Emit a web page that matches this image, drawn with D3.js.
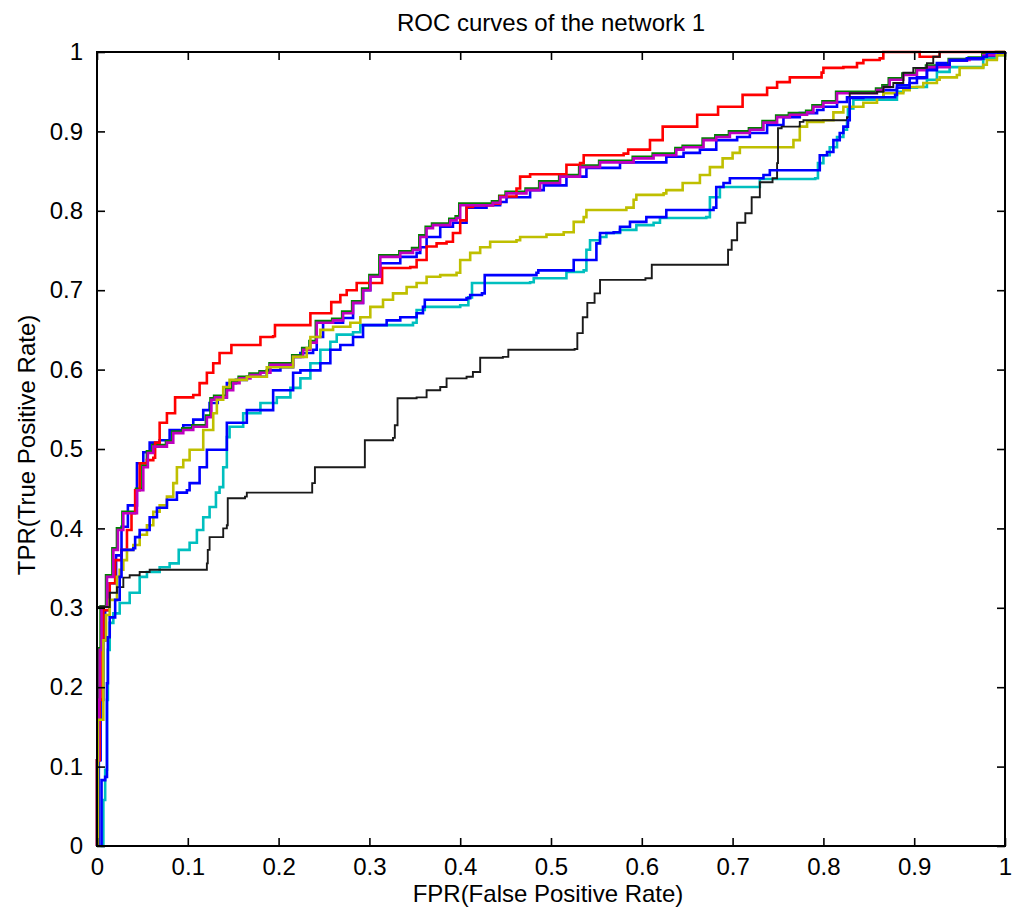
<!DOCTYPE html>
<html>
<head>
<meta charset="utf-8">
<script src="https://cdn.jsdelivr.net/npm/d3@7"></script>
<style>
  html, body { margin: 0; padding: 0; background: #fff; }
  svg text { font-family: "Liberation Sans", Arial, Helvetica, sans-serif; fill: #000; }
</style>
</head>
<body>
<svg id="chart" width="1024" height="918"></svg>
<script>
// ROC curves, [FPR, TPR] vertices of each staircase
const blue1Curve = [[0.002,0],[0.002,0.108],[0.004,0.184],[0.007,0.259],[0.009,0.297],[0.014,0.331],[0.021,0.366],[0.027,0.402],[0.034,0.429],[0.044,0.482],[0.051,0.496],[0.058,0.508],[0.069,0.511],[0.080,0.524],[0.095,0.530],[0.106,0.537],[0.117,0.549],[0.124,0.558],[0.133,0.565],[0.143,0.583],[0.153,0.587],[0.165,0.591],[0.187,0.599],[0.202,0.603],[0.216,0.616],[0.224,0.621],[0.238,0.625],[0.242,0.641],[0.249,0.659],[0.271,0.665],[0.282,0.684],[0.293,0.700],[0.301,0.717],[0.312,0.734],[0.334,0.742],[0.352,0.747],[0.356,0.754],[0.363,0.767],[0.378,0.780],[0.392,0.785],[0.407,0.804],[0.429,0.807],[0.444,0.811],[0.451,0.817],[0.477,0.826],[0.492,0.832],[0.517,0.843],[0.539,0.854],[0.576,0.861],[0.627,0.868],[0.646,0.873],[0.664,0.877],[0.682,0.889],[0.705,0.893],[0.719,0.898],[0.738,0.908],[0.756,0.918],[0.774,0.923],[0.793,0.927],[0.800,0.931],[0.815,0.937],[0.826,0.943],[0.866,0.952],[0.881,0.958],[0.895,0.967],[0.914,0.980],[0.925,0.986],[0.939,0.989],[0.958,0.991],[0.976,0.995],[0.991,0.999],[1,1]];

const greenCurve = [[0,0],[0,0.108],[0.001,0.185],[0.002,0.249],[0.004,0.302],[0.010,0.341],[0.017,0.375],[0.022,0.400],[0.028,0.421],[0.035,0.421],[0.043,0.450],[0.050,0.479],[0.055,0.497],[0.061,0.505],[0.068,0.505],[0.076,0.510],[0.083,0.522],[0.094,0.526],[0.105,0.530],[0.120,0.542],[0.125,0.564],[0.129,0.567],[0.138,0.567],[0.142,0.576],[0.149,0.585],[0.156,0.591],[0.168,0.595],[0.179,0.598],[0.190,0.608],[0.197,0.608],[0.215,0.618],[0.226,0.627],[0.234,0.636],[0.241,0.661],[0.259,0.664],[0.270,0.673],[0.281,0.686],[0.292,0.702],[0.300,0.719],[0.311,0.744],[0.333,0.749],[0.347,0.753],[0.355,0.769],[0.362,0.780],[0.369,0.784],[0.388,0.790],[0.395,0.793],[0.399,0.809],[0.435,0.812],[0.443,0.819],[0.450,0.824],[0.472,0.828],[0.487,0.837],[0.509,0.845],[0.531,0.857],[0.553,0.863],[0.590,0.868],[0.612,0.872],[0.637,0.879],[0.645,0.882],[0.667,0.891],[0.681,0.895],[0.696,0.900],[0.718,0.904],[0.733,0.913],[0.748,0.920],[0.762,0.923],[0.781,0.926],[0.788,0.933],[0.799,0.938],[0.814,0.950],[0.828,0.950],[0.858,0.954],[0.865,0.958],[0.872,0.967],[0.887,0.973],[0.902,0.979],[0.913,0.983],[0.938,0.991],[0.960,0.993],[0.975,0.997],[0.990,1],[1,1]];

const redCurve = [[0,0],[0,0.108],[0.003,0.184],[0.006,0.259],[0.007,0.297],[0.014,0.331],[0.020,0.360],[0.027,0.373],[0.033,0.398],[0.038,0.419],[0.042,0.448],[0.047,0.482],[0.055,0.486],[0.062,0.489],[0.064,0.508],[0.069,0.533],[0.077,0.545],[0.086,0.565],[0.106,0.568],[0.113,0.583],[0.121,0.596],[0.128,0.608],[0.135,0.621],[0.148,0.631],[0.172,0.631],[0.180,0.641],[0.194,0.642],[0.196,0.656],[0.231,0.656],[0.235,0.671],[0.253,0.671],[0.258,0.685],[0.268,0.694],[0.275,0.700],[0.286,0.709],[0.314,0.728],[0.345,0.729],[0.352,0.738],[0.363,0.755],[0.374,0.759],[0.385,0.761],[0.392,0.772],[0.400,0.788],[0.407,0.805],[0.414,0.807],[0.436,0.809],[0.444,0.818],[0.462,0.828],[0.466,0.843],[0.477,0.846],[0.517,0.858],[0.532,0.860],[0.536,0.870],[0.580,0.872],[0.585,0.877],[0.609,0.889],[0.623,0.906],[0.661,0.921],[0.684,0.931],[0.711,0.946],[0.738,0.955],[0.749,0.962],[0.763,0.968],[0.798,0.974],[0.800,0.980],[0.822,0.981],[0.837,0.986],[0.844,0.990],[0.862,0.992],[0.866,1],[0.906,1],[0.906,0.994],[0.928,0.994],[0.928,1],[1,1]];

const cyanCurve = [[0.004,0],[0.007,0.058],[0.009,0.096],[0.011,0.184],[0.012,0.247],[0.014,0.281],[0.018,0.293],[0.025,0.306],[0.036,0.319],[0.047,0.339],[0.055,0.345],[0.069,0.351],[0.080,0.356],[0.090,0.373],[0.102,0.382],[0.110,0.398],[0.117,0.414],[0.124,0.427],[0.131,0.445],[0.135,0.452],[0.139,0.477],[0.143,0.515],[0.146,0.528],[0.161,0.545],[0.180,0.558],[0.198,0.565],[0.213,0.577],[0.224,0.589],[0.235,0.608],[0.246,0.625],[0.257,0.635],[0.264,0.644],[0.282,0.647],[0.290,0.656],[0.348,0.659],[0.352,0.675],[0.361,0.679],[0.400,0.681],[0.409,0.691],[0.413,0.709],[0.477,0.710],[0.481,0.715],[0.513,0.715],[0.517,0.723],[0.536,0.725],[0.539,0.751],[0.543,0.763],[0.554,0.767],[0.561,0.772],[0.576,0.776],[0.594,0.782],[0.613,0.785],[0.620,0.791],[0.671,0.792],[0.675,0.817],[0.686,0.830],[0.727,0.830],[0.730,0.840],[0.791,0.841],[0.794,0.860],[0.800,0.870],[0.807,0.880],[0.815,0.893],[0.822,0.902],[0.826,0.911],[0.827,0.929],[0.833,0.940],[0.877,0.940],[0.881,0.950],[0.888,0.955],[0.903,0.956],[0.914,0.965],[0.925,0.975],[0.939,0.981],[0.976,0.992],[0.991,0.996],[1,1]];

const magentaCurve = [[0,0],[0,0.108],[0.002,0.184],[0.003,0.247],[0.005,0.301],[0.011,0.339],[0.018,0.373],[0.023,0.398],[0.029,0.419],[0.036,0.419],[0.044,0.448],[0.051,0.477],[0.056,0.495],[0.062,0.503],[0.069,0.503],[0.077,0.508],[0.084,0.520],[0.095,0.524],[0.106,0.528],[0.121,0.540],[0.126,0.562],[0.130,0.565],[0.139,0.565],[0.143,0.574],[0.150,0.583],[0.157,0.589],[0.169,0.593],[0.180,0.596],[0.191,0.606],[0.198,0.606],[0.216,0.616],[0.227,0.625],[0.235,0.634],[0.242,0.659],[0.260,0.662],[0.271,0.671],[0.282,0.684],[0.293,0.700],[0.301,0.717],[0.312,0.742],[0.334,0.747],[0.348,0.751],[0.356,0.767],[0.363,0.778],[0.370,0.782],[0.389,0.788],[0.396,0.791],[0.400,0.807],[0.436,0.810],[0.444,0.817],[0.451,0.822],[0.473,0.826],[0.488,0.835],[0.510,0.843],[0.532,0.855],[0.554,0.861],[0.591,0.866],[0.613,0.870],[0.638,0.877],[0.646,0.880],[0.668,0.889],[0.682,0.893],[0.697,0.898],[0.719,0.902],[0.734,0.911],[0.749,0.918],[0.763,0.921],[0.782,0.924],[0.789,0.931],[0.800,0.936],[0.815,0.948],[0.829,0.948],[0.859,0.952],[0.866,0.956],[0.873,0.965],[0.888,0.971],[0.903,0.977],[0.914,0.981],[0.939,0.990],[0.961,0.992],[0.976,0.996],[0.991,0.999],[1,1]];

const yellowCurve = [[0.001,0],[0.001,0.159],[0.007,0.196],[0.007,0.259],[0.010,0.291],[0.014,0.310],[0.022,0.339],[0.025,0.348],[0.029,0.360],[0.033,0.373],[0.040,0.379],[0.047,0.392],[0.055,0.404],[0.062,0.421],[0.069,0.429],[0.077,0.440],[0.084,0.457],[0.088,0.477],[0.095,0.486],[0.102,0.499],[0.117,0.524],[0.128,0.545],[0.132,0.562],[0.139,0.578],[0.146,0.587],[0.165,0.591],[0.187,0.603],[0.216,0.616],[0.231,0.627],[0.235,0.641],[0.246,0.650],[0.260,0.654],[0.279,0.659],[0.290,0.666],[0.301,0.679],[0.315,0.688],[0.326,0.696],[0.341,0.704],[0.352,0.709],[0.363,0.717],[0.378,0.719],[0.396,0.722],[0.400,0.738],[0.411,0.747],[0.422,0.754],[0.433,0.761],[0.462,0.763],[0.466,0.767],[0.495,0.770],[0.514,0.773],[0.525,0.786],[0.536,0.792],[0.539,0.801],[0.583,0.804],[0.591,0.814],[0.594,0.820],[0.624,0.822],[0.627,0.826],[0.645,0.835],[0.664,0.845],[0.675,0.855],[0.689,0.866],[0.700,0.873],[0.708,0.880],[0.760,0.880],[0.767,0.889],[0.774,0.906],[0.782,0.912],[0.800,0.914],[0.811,0.924],[0.822,0.931],[0.829,0.931],[0.844,0.936],[0.859,0.943],[0.866,0.948],[0.888,0.952],[0.895,0.956],[0.910,0.961],[0.925,0.965],[0.928,0.968],[0.947,0.971],[0.950,0.980],[0.976,0.984],[0.980,0.990],[0.991,0.996],[1,1]];

const blackCurve = [[0,0],[0,0.301],[0.003,0.301],[0.014,0.319],[0.022,0.326],[0.029,0.338],[0.036,0.341],[0.047,0.345],[0.058,0.348],[0.117,0.348],[0.121,0.356],[0.122,0.373],[0.124,0.389],[0.138,0.389],[0.139,0.400],[0.143,0.404],[0.144,0.438],[0.163,0.440],[0.165,0.445],[0.235,0.445],[0.237,0.457],[0.240,0.477],[0.292,0.477],[0.295,0.511],[0.326,0.514],[0.328,0.530],[0.331,0.564],[0.352,0.565],[0.363,0.574],[0.378,0.578],[0.385,0.589],[0.407,0.591],[0.414,0.597],[0.422,0.615],[0.447,0.616],[0.453,0.625],[0.526,0.626],[0.529,0.646],[0.535,0.666],[0.540,0.684],[0.548,0.696],[0.554,0.713],[0.604,0.715],[0.611,0.732],[0.689,0.732],[0.695,0.751],[0.699,0.763],[0.705,0.785],[0.714,0.797],[0.721,0.817],[0.730,0.836],[0.744,0.841],[0.749,0.860],[0.750,0.904],[0.754,0.906],[0.774,0.912],[0.778,0.914],[0.822,0.914],[0.826,0.918],[0.829,0.948],[0.859,0.950],[0.866,0.956],[0.877,0.961],[0.888,0.974],[0.899,0.980],[0.914,0.986],[0.921,0.994],[0.928,1],[1,1]];

const blue2Curve = [[0.005,0],[0.005,0.083],[0.009,0.087],[0.011,0.205],[0.012,0.263],[0.014,0.288],[0.020,0.310],[0.025,0.339],[0.027,0.373],[0.040,0.375],[0.042,0.389],[0.047,0.398],[0.058,0.414],[0.066,0.426],[0.077,0.436],[0.088,0.445],[0.099,0.448],[0.102,0.457],[0.113,0.477],[0.121,0.499],[0.143,0.533],[0.165,0.549],[0.194,0.574],[0.216,0.596],[0.224,0.599],[0.246,0.608],[0.257,0.625],[0.268,0.631],[0.282,0.641],[0.293,0.656],[0.319,0.662],[0.334,0.666],[0.352,0.671],[0.359,0.679],[0.361,0.688],[0.407,0.690],[0.411,0.694],[0.424,0.696],[0.427,0.719],[0.484,0.722],[0.486,0.725],[0.521,0.725],[0.525,0.738],[0.548,0.738],[0.550,0.759],[0.554,0.772],[0.569,0.773],[0.576,0.780],[0.587,0.786],[0.605,0.792],[0.627,0.801],[0.679,0.804],[0.682,0.830],[0.690,0.835],[0.697,0.841],[0.730,0.841],[0.734,0.845],[0.741,0.851],[0.793,0.851],[0.796,0.870],[0.804,0.874],[0.811,0.889],[0.818,0.898],[0.822,0.906],[0.827,0.914],[0.829,0.942],[0.844,0.943],[0.879,0.946],[0.881,0.955],[0.895,0.961],[0.903,0.968],[0.914,0.977],[0.925,0.984],[0.939,0.990],[0.958,0.992],[0.976,0.994],[0.980,0.999],[1,1]];

// plotting order (later curves sit on top)
const seriesNames = ["blue1", "green", "red", "cyan", "magenta", "yellow", "black", "blue2"];
const seriesData = [blue1Curve, greenCurve, redCurve, cyanCurve, magentaCurve, yellowCurve, blackCurve, blue2Curve];
const seriesColors = ["#0000ff", "#008000", "#ff0000", "#00bfbf", "#bf00bf", "#bfbf00", "#1a1a1a", "#0000ff"];

const tickValues = [0, 0.1, 0.2, 0.3, 0.4, 0.5, 0.6, 0.7, 0.8, 0.9, 1];
const tickLabels = ["0", "0.1", "0.2", "0.3", "0.4", "0.5", "0.6", "0.7", "0.8", "0.9", "1"];

const titleText = "ROC curves of the network 1";
const xLabelText = "FPR(False Positive Rate)";
const yLabelText = "TPR(True Positive Rate)";

const margin = { left: 97, top: 52, right: 19, bottom: 72 };
const W = 1024, H = 918;
const iw = W - margin.left - margin.right;
const ih = H - margin.top - margin.bottom;

const svg = d3.select("#chart");
const g = svg.append("g").attr("transform", `translate(${margin.left},${margin.top})`);

const x = d3.scaleLinear().domain([0, 1]).range([0, iw]);
const y = d3.scaleLinear().domain([0, 1]).range([ih, 0]);

const clipId = "plot-clip";
svg.append("defs").append("clipPath").attr("id", clipId)
  .append("rect").attr("x", -2).attr("y", -2).attr("width", iw + 4).attr("height", ih + 4);

const line = d3.line()
  .x(d => x(d[0]))
  .y(d => y(d[1]))
  .curve(d3.curveStepAfter);

const curves = g.append("g").attr("clip-path", `url(#${clipId})`);
seriesData.forEach((data, i) => {
  curves.append("path")
    .datum(data)
    .attr("class", "roc " + seriesNames[i])
    .attr("fill", "none")
    .attr("stroke", seriesColors[i])
    .attr("stroke-width", seriesNames[i] === "black" ? 1.9 : 2.6)
    .attr("d", line);
});

const fmt = (d) => tickLabels[tickValues.indexOf(d)];

// bottom and left axes carry the labels; all ticks point inward
const xAxis = g.append("g").attr("transform", `translate(0,${ih})`)
  .call(d3.axisBottom(x).tickValues(tickValues).tickFormat(fmt).tickSizeInner(-8).tickSizeOuter(0).tickPadding(12));
const yAxis = g.append("g")
  .call(d3.axisLeft(y).tickValues(tickValues).tickFormat(fmt).tickSizeInner(-8).tickSizeOuter(0).tickPadding(14));
const topAxis = g.append("g")
  .call(d3.axisTop(x).tickValues(tickValues).tickFormat("").tickSizeInner(-8).tickSizeOuter(0));
const rightAxis = g.append("g").attr("transform", `translate(${iw},0)`)
  .call(d3.axisRight(y).tickValues(tickValues).tickFormat("").tickSizeInner(-8).tickSizeOuter(0));

[xAxis, yAxis, topAxis, rightAxis].forEach(a => {
  a.select(".domain").remove();
  a.selectAll(".tick line").attr("stroke", "#000").attr("stroke-width", 1.6);
  a.selectAll("text").attr("font-size", 24).attr("fill", "#000")
    .style("font-family", "'Liberation Sans', Arial, sans-serif");
});

// frame
g.append("rect")
  .attr("x", 0).attr("y", 0).attr("width", iw).attr("height", ih)
  .attr("fill", "none").attr("stroke", "#000").attr("stroke-width", 2);

// title and axis labels
svg.append("text")
  .attr("x", margin.left + iw / 2).attr("y", 31)
  .attr("text-anchor", "middle").attr("font-size", 24)
  .text(titleText);

svg.append("text")
  .attr("x", margin.left + iw / 2 - 3).attr("y", 902)
  .attr("text-anchor", "middle").attr("font-size", 24)
  .text(xLabelText);

svg.append("text")
  .attr("transform", `translate(35,${margin.top + ih / 2 - 4}) rotate(-90)`)
  .attr("text-anchor", "middle").attr("font-size", 24)
  .text(yLabelText);
</script>
</body>
</html>
